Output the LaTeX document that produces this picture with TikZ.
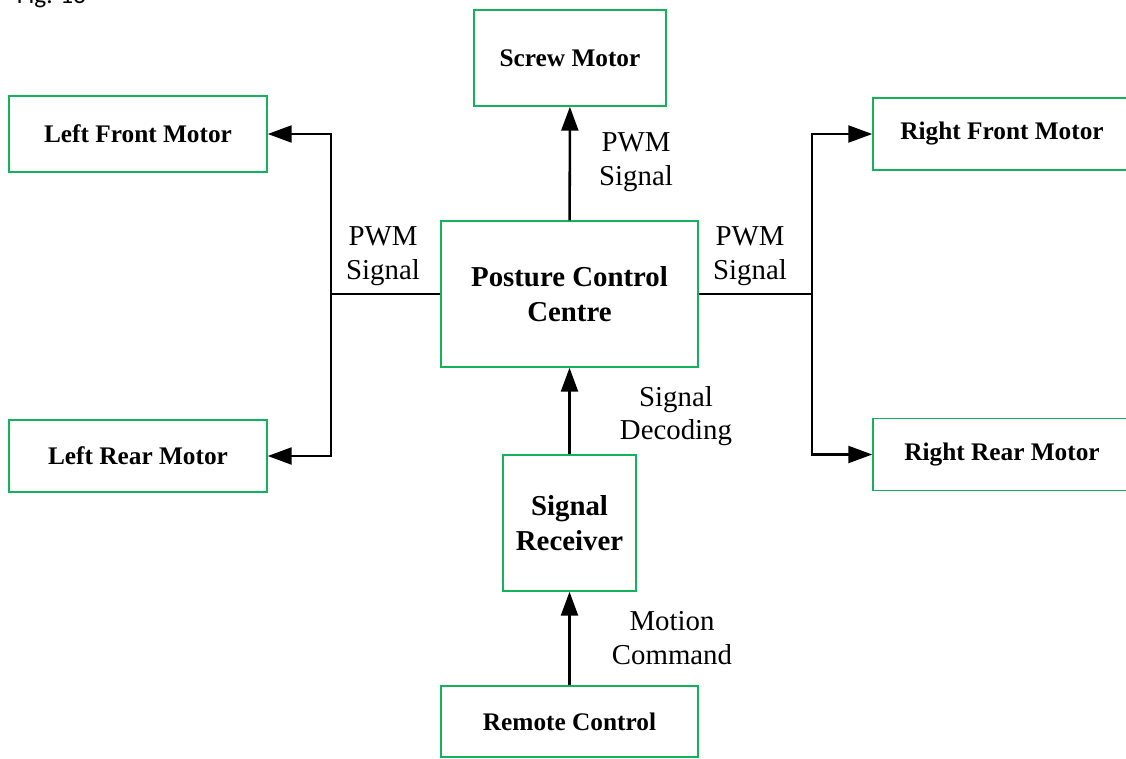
\documentclass[tikz,border=0pt]{standalone}
\usepackage{fontspec}
\setmainfont{Liberation Serif}
\newfontfamily\figfont{Carlito}
\usepackage{tikz}
\usetikzlibrary{arrows.meta}
\definecolor{boxgreen}{RGB}{20,178,90}

\begin{document}
\begin{tikzpicture}[x=0.025cm,y=-0.025cm,
		block/.style={shape=rectangle,draw=boxgreen,line width=1pt,inner sep=0pt,
			align=center,font=\bfseries\fontsize{18}{24}\selectfont},
		bigblock/.style={block,font=\bfseries\fontsize{20.5}{25}\selectfont},
		lbl/.style={align=center,inner sep=0pt,font=\fontsize{20.5}{24}\selectfont},
		conn/.style={line width=1.8pt,-{Triangle[length=17pt,width=12pt]}},
		plain/.style={line width=1.8pt}]
	\clip (0,0) rectangle (1126,758);
	\node[anchor=base west,font=\figfont\fontsize{18}{20}\selectfont] (figno) at (12,3) {Fig. 13};

	% control unit and the chain feeding it
	\node (centre) [bigblock,minimum width=6.425cm,minimum height=3.65cm] at (569.5,294) {Posture Control\\Centre};
	\node (receiver) [bigblock,minimum width=3.325cm,minimum height=3.4cm] at (569.5,523) {Signal\\Receiver};
	\node (remote) [block,minimum width=6.425cm,minimum height=1.775cm] at (569.5,721.5) {Remote Control};

	% motors
	\node (screw) [block,minimum width=4.8cm,minimum height=2.4cm] at (570,58) {Screw Motor};
	\node (lfront) [block,minimum width=6.45cm,minimum height=1.9cm] at (138,134) {Left Front Motor};
	\node (lrear) [block,minimum width=6.45cm,minimum height=1.8cm] at (138,456) {Left Rear Motor};
	\node (rfront) [block,minimum width=6.45cm,minimum height=1.8cm] at (1002,134) {Right Front Motor};
	\node (rrear) [block,minimum width=6.45cm,minimum height=1.8cm] at (1002,454.5) {Right Rear Motor};

	% branch points
	\coordinate (jl) at (331,294);
	\coordinate (jr) at (812,294);

	\draw[conn] (remote) -- (receiver);
	\draw[conn] (receiver) -- (centre);
	\draw[conn] (centre) -- (screw);
	\draw[plain] (centre.west) -- (jl);
	\draw[conn] (jl) |- (lfront.east);
	\draw[conn] (jl) |- (lrear.east);
	\draw[plain] (centre.east) -- (jr);
	\draw[conn] (jr) |- (rfront.west);
	\draw[conn] (jr) |- (rrear.west);

	\node (pwmtop) [lbl] at (636,162) {PWM\\Signal};
	\node (pwmleft) [lbl] at (383,256) {PWM\\Signal};
	\node (pwmright) [lbl] at (750,256) {PWM\\Signal};
	\node (decode) [lbl] at (676,416) {Signal\\Decoding};
	\node (motion) [lbl] at (672,638) {Motion\\Command};
\end{tikzpicture}
\end{document}
